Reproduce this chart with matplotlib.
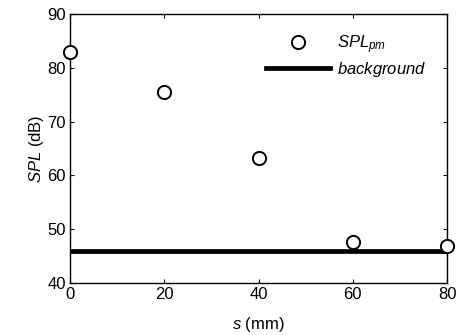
import matplotlib.pyplot as plt

# data
s = [0, 20, 40, 60, 80]
spl_pm = [83.0, 75.5, 63.2, 47.7, 46.8]
background = 45.9

plt.rcParams['font.family'] = ['Liberation Sans', 'DejaVu Sans']
plt.rcParams['mathtext.fontset'] = 'custom'
plt.rcParams['mathtext.it'] = 'Liberation Sans:italic'
plt.rcParams['mathtext.rm'] = 'Liberation Sans'

fig = plt.figure(figsize=(4.59, 3.35), dpi=100)
ax = fig.add_axes([0.1525, 0.155, 0.8215, 0.803])

ax.plot(s, spl_pm, 'o', mfc='white', mec='black', ms=9.5, mew=1.4,
        clip_on=False, zorder=3, label=r'$SPL_{pm}$')
ax.plot([s[0], s[-1]], [background, background], color='black', lw=3.4,
        label=r'$background$')

ax.set_xlim(0, 80)
ax.set_ylim(40, 90)
ax.set_xticks([0, 20, 40, 60, 80])
ax.set_yticks([40, 50, 60, 70, 80, 90])
ax.tick_params(direction='in', top=True, right=True, length=3, labelsize=12, pad=3)
for sp in ax.spines.values():
    sp.set_linewidth(1.0)

ax.set_xlabel(r'$s$ (mm)', fontsize=12, labelpad=9)
ax.set_ylabel(r'$SPL$ (dB)', fontsize=12, labelpad=1)

ax.legend(loc='upper right', frameon=False, fontsize=12,
          bbox_to_anchor=(0.985, 0.985), handlelength=3.8, handletextpad=0.45,
          labelspacing=0.25)

fig.savefig('out.png', dpi=100)
